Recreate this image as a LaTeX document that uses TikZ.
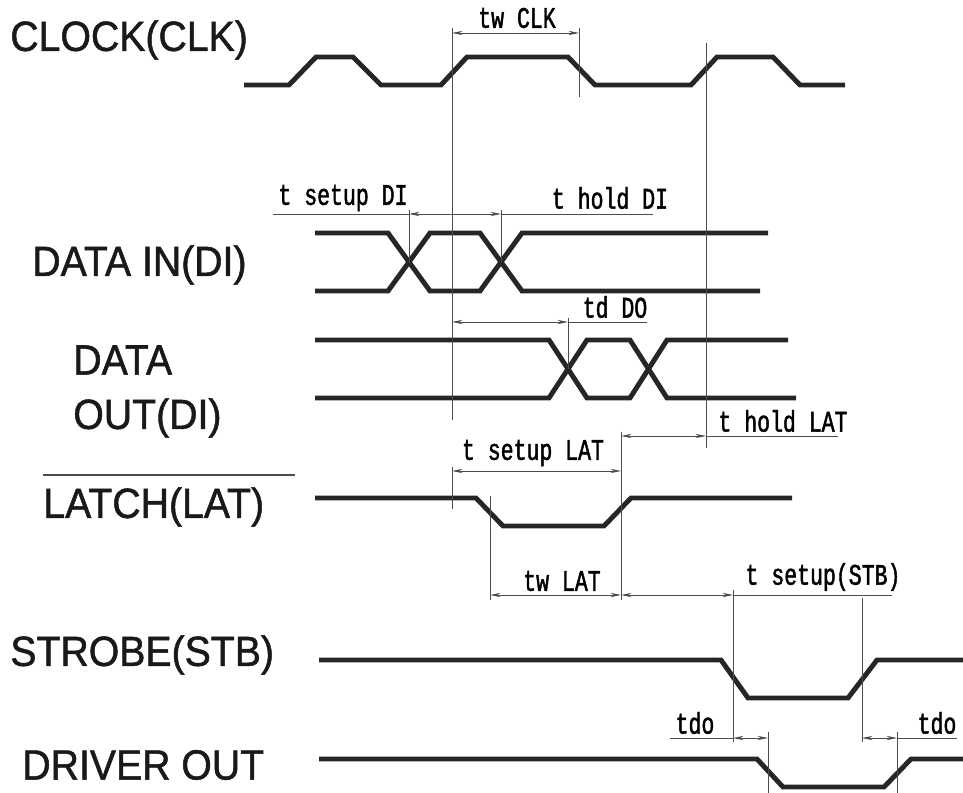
\documentclass[tikz,border=0pt]{standalone}
\usepackage{fontspec}
\setmainfont{Liberation Sans}
\newfontfamily\sigfont[FakeStretch=0.93,FakeBold=1.2]{Liberation Sans}
\newfontfamily\dimfont[FakeStretch=0.72,FakeBold=1.5]{Liberation Mono}
\usetikzlibrary{arrows.meta}

\tikzset{
  wave/.style={line width=2.8pt, color=black!85},
  dimline/.style={line width=0.5pt, color=black!70},
  dimtext/.style={font=\dimfont\fontsize{17}{18}\selectfont, inner sep=0pt},
  sigtext/.style={font=\sigfont\fontsize{24}{26}\selectfont, inner sep=0pt, anchor=west, color=black!90}
}

\begin{document}
\begin{tikzpicture}[x=0.02cm, y=-0.02cm, >={Stealth[length=6pt,width=2.4pt]}]
        \useasboundingbox (0,0) rectangle (963,793);

        % Signal names
        \node[sigtext] (clk) at (10,40) {CLOCK(CLK)};
        \node[sigtext] (di) at (32,265) {DATA IN(DI)};
        \node[sigtext] (do1) at (73,360) {DATA};
        \node[sigtext] (do2) at (73,418) {OUT(DI)};
        \node[sigtext] (lat) at (43,507) {LATCH(LAT)};
        \draw[dimline, line width=0.8pt] (43,475) -- (295,475);
        \node[sigtext] (stb) at (10,655) {STROBE(STB)};
        \node[sigtext] (drv) at (22,765) {DRIVER OUT};

        % Clock
        \draw[wave] (244,85) -- (289,85) -- (316,57) -- (353,57) -- (381,85) -- (441,85) -- (467,57)
                    -- (568,57) -- (595,85) -- (691,85) -- (717,57) -- (773,57) -- (800,85) -- (845,85);

        % Data in
        \draw[wave] (315,233) -- (388,233) -- (430,291) -- (480,291) -- (522,233) -- (768,233);
        \draw[wave] (315,291) -- (388,291) -- (430,233) -- (480,233) -- (522,291) -- (760,291);

        % Data out
        \draw[wave] (315,340) -- (549,340) -- (587,398) -- (630,398) -- (667,340) -- (788,340);
        \draw[wave] (315,398) -- (549,398) -- (587,340) -- (630,340) -- (667,398) -- (796,398);

        % Latch
        \draw[wave] (315,498) -- (476,498) -- (503,526) -- (604,526) -- (631,498) -- (792,498);

        % Strobe
        \draw[wave] (319,660) -- (721,660) -- (748,698) -- (848,698) -- (877,660) -- (963,660);

        % Driver out
        \draw[wave] (319,759) -- (757,759) -- (783,787) -- (884,787) -- (911,759) -- (963,759);

        % Extension lines
        \draw[dimline] (452,28) -- (452,420);
        \draw[dimline] (579,28) -- (579,97);
        \draw[dimline] (706,43) -- (706,448);
        \draw[dimline] (409,210) -- (409,262);
        \draw[dimline] (501,210) -- (501,262);
        \draw[dimline] (568,318) -- (568,369);
        \draw[dimline] (621,432) -- (621,600);
        \draw[dimline] (452,467) -- (452,509);
        \draw[dimline] (490,496) -- (490,600);
        \draw[dimline] (733,590) -- (733,742);
        \draw[dimline] (862,598) -- (862,742);
        \draw[dimline] (768,732) -- (768,793);
        \draw[dimline] (897,732) -- (897,793);

        % Timing dimensions
        \draw[dimline, <->] (452,33) -- (579,33);
        \node[dimtext] (twclk) at (517,18) {tw CLK};

        \draw[dimline] (273,214) -- (409,214);
        \draw[dimline, <->] (409,214) -- (501,214);
        \draw[dimline] (501,214) -- (653,214);
        \node[dimtext] (tsudi) at (343,198) {t setup DI};
        \node[dimtext] (thdi) at (610,198) {t hold DI};

        \draw[dimline, <->] (452,322) -- (568,322);
        \draw[dimline] (568,322) -- (647,322);
        \node[dimtext] (tddo) at (615,307) {td DO};

        \draw[dimline, <->] (621,436) -- (706,436);
        \draw[dimline] (706,436) -- (838,436);
        \node[dimtext] (thlat) at (783,421) {t hold LAT};

        \draw[dimline, <->] (452,471) -- (621,471);
        \node[dimtext] (tsulat) at (533,453) {t setup LAT};

        \draw[dimline, <->] (490,595) -- (621,595);
        \node[dimtext] (twlat) at (562,581) {tw LAT};

        \draw[dimline, <->] (621,595) -- (733,595);
        \draw[dimline] (733,595) -- (892,595);
        \node[dimtext] (tsustb) at (823,577) {t setup(STB)};

        \draw[dimline] (670,738) -- (733,738);
        \draw[dimline, <->] (733,738) -- (768,738);
        \node[dimtext] (tdo1) at (695,723) {tdo};

        \draw[dimline, <->] (862,738) -- (897,738);
        \draw[dimline] (897,738) -- (957,738);
        \node[dimtext] (tdo2) at (937,723) {tdo};

\end{tikzpicture}
\end{document}
